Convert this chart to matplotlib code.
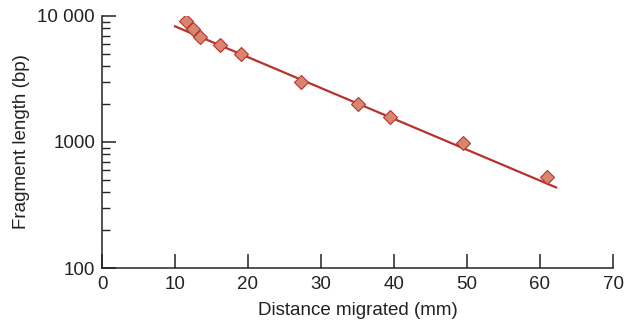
import matplotlib.pyplot as plt
from matplotlib.ticker import FixedLocator, LogLocator, NullFormatter

plt.rcParams["font.family"] = ["Liberation Sans", "DejaVu Sans"]

# measured points (distance in mm, fragment size in bp)
distance_mm = [11.5, 12.5, 13.4, 16.1, 19.1, 27.2, 35.1, 39.5, 49.5, 61.0]
fragment_bp = [9100, 7950, 6800, 5900, 4950, 3000, 1990, 1590, 990, 530]

# ends of the fitted line as drawn
fit_x = [10.0, 62.2]
fit_y = [8280, 436]

y_ticks = [100, 1000, 10000]
y_tick_labels = ["100", "1000", "10 000"]
x_ticks = [0, 10, 20, 30, 40, 50, 60, 70]

LINE = "#b8312b"
FACE = "#d98570"
EDGE = "#b5362e"

fig = plt.figure(figsize=(6.25, 3.21), dpi=100)
ax = fig.add_axes([0.1632, 0.1651, 0.8176, 0.7851])

ax.plot(fit_x, fit_y, color=LINE, lw=1.6, zorder=2)
ax.plot(distance_mm, fragment_bp, ls="none", marker="D", ms=7.5,
        mfc=FACE, mec=EDGE, mew=0.8, zorder=3)

ax.set_yscale("log")
ax.set_xlim(0, 70)
ax.set_ylim(100, 10000)

ax.xaxis.set_major_locator(FixedLocator(x_ticks))
ax.yaxis.set_major_locator(FixedLocator(y_ticks))
ax.set_yticklabels(y_tick_labels)
ax.yaxis.set_minor_locator(LogLocator(base=10, subs=range(2, 10)))
ax.yaxis.set_minor_formatter(NullFormatter())

for side in ("top", "right"):
    ax.spines[side].set_visible(False)
for side in ("left", "bottom"):
    ax.spines[side].set_linewidth(1.1)
    ax.spines[side].set_color("#222222")

ax.tick_params(axis="both", which="major", direction="in", length=10,
               width=1.1, color="#222222", labelsize=13.5, labelcolor="#222222")
ax.tick_params(axis="x", which="major", pad=6)
ax.tick_params(axis="y", which="major", pad=5)
ax.tick_params(axis="y", which="minor", direction="in", length=6,
               width=1.0, color="#222222")

ax.set_xlabel("Distance migrated (mm)", fontsize=13.5, labelpad=6, color="#222222")
ax.set_ylabel("Fragment length (bp)", fontsize=13.5, labelpad=5, color="#222222")

fig.savefig("out.png", dpi=100)
